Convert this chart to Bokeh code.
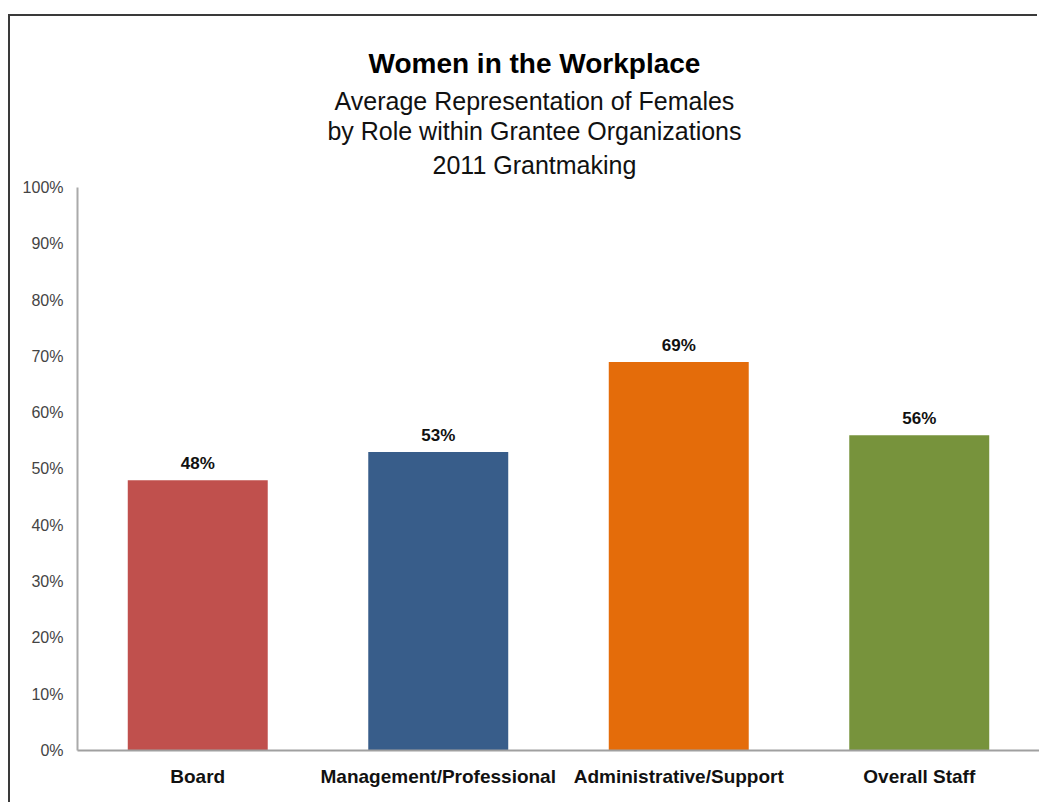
from bokeh.plotting import figure
from bokeh.models import ColumnDataSource, Range1d, FixedTicker, NumeralTickFormatter
from bokeh.core.properties import value
from bokeh.embed import file_html
from bokeh.resources import INLINE

categories = ["Board", "Management/Professional", "Administrative/Support", "Overall Staff"]
values = [0.48, 0.53, 0.69, 0.56]
colors = ["#C0504D", "#385D8A", "#E46C0A", "#77933C"]
y_ticks = [0.0, 0.1, 0.2, 0.3, 0.4, 0.5, 0.6, 0.7, 0.8, 0.9, 1.0]
title_text = "Women in the Workplace"
subtitle_lines = ["Average Representation of Females",
                  "by Role within Grantee Organizations",
                  "2011 Grantmaking"]

labels = ["%d%%" % round(v * 100) for v in values]
src = ColumnDataSource(dict(cat=categories, val=values, color=colors, label=labels))

FONT = "Liberation Sans"

# y range extends above 100% to hold the title block; axis is bounded to 0..1
p = figure(x_range=categories, y_range=Range1d(0, 1.3037),
           width=1029, height=788, output_backend="svg", toolbar_location=None,
           min_border_left=67, min_border_right=0, min_border_top=0, min_border_bottom=54,
           title=None)
p.outline_line_color = None
p.xgrid.grid_line_color = None
p.ygrid.grid_line_color = None
p.background_fill_color = "white"
p.border_fill_color = "white"

p.vbar(x="cat", top="val", width=0.582, color="color", line_color=None, source=src)
p.text(x="cat", y="val", text="label", source=src, y_offset=-7,
       text_align="center", text_baseline="bottom",
       text_font=value(FONT), text_font_style="bold", text_font_size="17px",
       text_color="#111111")

p.yaxis.bounds = (0, 1)
p.yaxis.ticker = FixedTicker(ticks=y_ticks)
p.yaxis.formatter = NumeralTickFormatter(format="0%")
p.yaxis.major_tick_line_color = None
p.yaxis.minor_tick_line_color = None
p.yaxis.axis_line_color = "#aaaaaa"
p.yaxis.axis_line_width = 2
p.yaxis.major_label_text_font = FONT
p.yaxis.major_label_text_font_size = "16px"
p.yaxis.major_label_text_color = "#444444"
p.yaxis.major_label_standoff = 8

p.xaxis.major_tick_line_color = None
p.xaxis.minor_tick_line_color = None
p.xaxis.axis_line_color = "#a0a0a0"
p.xaxis.axis_line_width = 2
p.xaxis.major_label_text_font = FONT
p.xaxis.major_label_text_font_style = "bold"
p.xaxis.major_label_text_font_size = "19px"
p.xaxis.major_label_text_color = "#111111"
p.xaxis.major_label_standoff = 9

p.text(x=[1.9], y=[1.2202], text=[title_text], text_align="center", text_baseline="middle",
       text_font=value(FONT), text_font_style="bold", text_font_size="28px",
       text_color="#000000")
sub_y = [1.1545, 1.0995, 1.0391]
p.text(x=[1.9] * len(subtitle_lines), y=sub_y, text=subtitle_lines,
       text_align="center", text_baseline="middle",
       text_font=value(FONT), text_font_size="25px", text_color="#111111")

p.styles = {"margin-left": "10px", "margin-top": "16px",
            "box-shadow": "-2px -2px 0px 0px #3a3a3a"}

open("out.html", "w").write(file_html(p, INLINE))
